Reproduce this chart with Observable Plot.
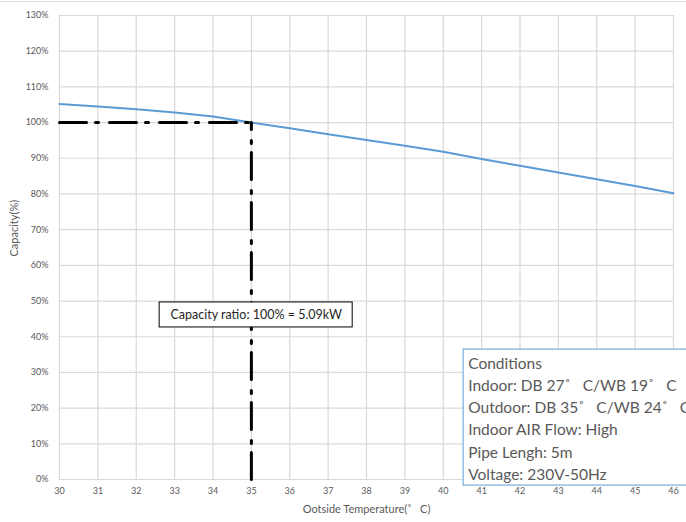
<!DOCTYPE html>
<html>
<head>
<meta charset="utf-8">
<script src="https://cdn.jsdelivr.net/npm/d3@7"></script>
<script src="https://cdn.jsdelivr.net/npm/@observablehq/plot@0.6"></script>
<style>
  html, body { margin: 0; padding: 0; background: #fff; overflow: hidden; }
  #chart svg { display: block; }
</style>
</head>
<body>
<div id="chart"></div>
<script>
const temps = [30, 31, 32, 33, 34, 35, 36, 37, 38, 39, 40, 41, 42, 43, 44, 45, 46];
const capacity = [105.2, 104.5, 103.7, 102.8, 101.7, 100, 98.4, 96.7, 95.1, 93.5, 91.8, 89.8, 87.9, 86.0, 84.1, 82.2, 80.2];
const yTicks = [0, 10, 20, 30, 40, 50, 60, 70, 80, 90, 100, 110, 120, 130];
const refTemp = 35;
const refCap = 100;
const ratioLabel = "Capacity ratio: 100% = 5.09kW";
const deg = "\u02da\u00a0\u00a0\u00a0";
const conditions = [
  "Conditions",
  "Indoor: DB 27" + deg + "C/WB 19" + deg + "C",
  "Outdoor: DB 35" + deg + "C/WB 24" + deg + "C",
  "Indoor AIR Flow: High",
  "Pipe Lengh: 5m",
  "Voltage: 230V-50Hz"
];
const xLabel = "Ootside Temperature(" + deg + "C)";
const yLabel = "Capacity(%)";

const series = temps.map((t, i) => ({t, c: capacity[i]}));
const hRef = [{t: temps[0], c: refCap}, {t: refTemp, c: refCap}];
const vRef = [{t: refTemp, c: yTicks[0]}, {t: refTemp, c: refCap}];
// annotation boxes in data coordinates
const ratioBox = [{x1: 32.61, x2: 37.64, y1: 42.6, y2: 49.6, label: ratioLabel}];
const condBox = [{x1: 40.53, x2: 48.5, y1: -1.7, y2: 36.4, label: conditions.join("\n")}];

const gray = "#595959";
const font = "Lato, 'Open Sans', sans-serif";

const plot = Plot.plot({
  width: 686,
  height: 522,
  marginLeft: 59,
  marginRight: 13,
  marginTop: 15,
  marginBottom: 43,
  style: {fontFamily: font, color: gray, background: "#fff"},
  x: {domain: [30, 46], ticks: temps},
  y: {domain: [0, 130], ticks: yTicks},
  marks: [
    Plot.gridX(temps, {stroke: "#d9d9d9", strokeOpacity: 1, strokeWidth: 1.2}),
    Plot.gridY(yTicks, {stroke: "#d9d9d9", strokeOpacity: 1, strokeWidth: 1.2}),
    Plot.axisX({ticks: temps, tickSize: 0, tickPadding: 8, fontSize: 9, fill: gray, label: null, tickFormat: d => String(d)}),
    Plot.axisY({ticks: yTicks, tickSize: 0, tickPadding: 11, fontSize: 9, fill: gray, label: null, tickFormat: d => d + "%"}),
    Plot.text([xLabel], {frameAnchor: "bottom", dy: 33, fontSize: 11, fill: gray}),
    Plot.text([yLabel], {frameAnchor: "left", dx: -45, dy: 9, rotate: -90, fontSize: 11, fill: gray}),
    Plot.line(series, {x: "t", y: "c", stroke: "#5b9bd5", strokeWidth: 2}),
    Plot.line(hRef, {x: "t", y: "c", stroke: "#000", strokeWidth: 3, strokeDasharray: "27,9,3,11"}),
    Plot.line(vRef, {x: "t", y: "c", stroke: "#000", strokeWidth: 3, strokeDasharray: "27,9,3,11"}),
    Plot.rect(ratioBox, {x1: "x1", x2: "x2", y1: "y1", y2: "y2", fill: "#fff", stroke: "#000", strokeWidth: 1}),
    Plot.text(ratioBox, {x: d => (d.x1 + d.x2) / 2, y: d => (d.y1 + d.y2) / 2, text: "label", fontSize: 12.5, fill: "#262626"}),
    Plot.rect(condBox, {x1: "x1", x2: "x2", y1: "y1", y2: "y2", fill: "#fff", stroke: "#5b9bd5", strokeWidth: 1, clip: false}),
    Plot.text(condBox, {x: d => d.x1 + 0.12, y: d => d.y2 - 1.0, text: "label", textAnchor: "start", lineAnchor: "top", lineHeight: 1.43, fontSize: 15.5, fill: gray, clip: false})
  ]
});
document.getElementById("chart").appendChild(plot);
// thin outer chart border line at top
const svg = d3.select(plot);
svg.append("line").attr("x1", 0).attr("x2", 686).attr("y1", 1.5).attr("y2", 1.5).attr("stroke", "#d9d9d9").attr("stroke-width", 1);
</script>
</body>
</html>
